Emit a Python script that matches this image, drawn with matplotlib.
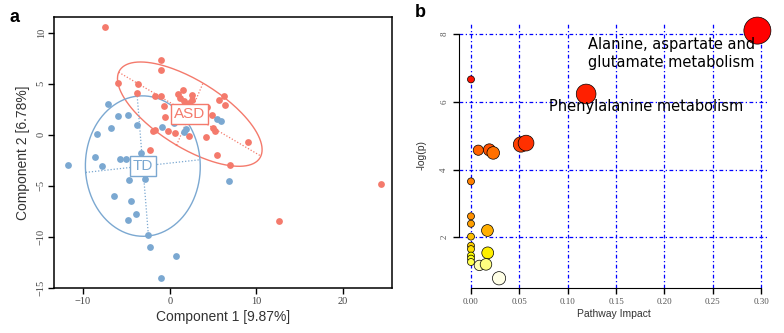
import colorsys
import numpy as np
import matplotlib
matplotlib.use('Agg')
import matplotlib.pyplot as plt

# panel a: PLS-DA scores
asd_x = [-7.5, -0.97, -0.97, -6.0, -3.66, -3.77, -1.66, -0.97, 1.57, 0.92, 1.19, 1.68,
         2.57, 2.57, 2.23, -0.66, -0.5, 4.27, 5.72, 6.23, 6.42, 4.88, -1.66, -1.96,
         -0.2, 0.58, 2.23, 5.03, 5.23, 4.23, 9.0, -2.24, 5.46, 6.96, 12.64, 24.34]
asd_y = [10.56, 7.29, 6.37, 5.1, 5.0, 4.09, 3.82, 3.82, 4.35, 4.02, 3.6, 3.33,
         3.92, 3.4, 3.08, 2.81, 1.76, 2.69, 3.43, 3.76, 2.88, 1.9, 0.43, 0.36,
         0.36, 0.14, -0.13, 0.66, 0.39, -0.23, -0.72, -1.5, -1.99, -2.94, -8.43, -4.83]
td_x = [-7.15, -5.93, -4.84, -6.8, -8.35, -3.81, -0.89, 0.5, 1.88, 1.65, 5.42, 5.95,
        -8.62, -5.7, -5.07, -3.31, -11.77, -7.81, -4.69, -2.85, 6.87, -6.46, -4.43,
        -3.89, -4.84, -2.5, -2.24, 0.69, -1.04]
td_y = [2.98, 1.86, 1.9, 0.66, 0.04, 0.92, 0.78, 1.18, 0.59, 0.29, 1.57, 1.38,
        -2.15, -2.35, -2.38, -1.8, -2.94, -3.04, -4.44, -4.34, -4.51, -6.01, -6.53,
        -7.74, -8.36, -9.8, -10.98, -11.92, -14.08]
x_label_a = 'Component 1 [9.87%]'
y_label_a = 'Component 2 [6.78%]'

# panel b: pathway impact vs -log(p)
impact = [0.296, 0.0, 0.119, 0.0076, 0.019, 0.023, 0.0517, 0.0569, 0.0, 0.0, 0.0,
          0.017, 0.0, 0.0, 0.0, 0.0173, 0.0, 0.0, 0.0, 0.0087, 0.0155, 0.029]
logp = [8.1, 6.66, 6.23, 4.57, 4.58, 4.49, 4.74, 4.78, 3.65, 2.62, 2.40,
        2.2, 2.02, 1.75, 1.65, 1.54, 1.46, 1.37, 1.27, 1.17, 1.20, 0.79]
path_names = ['Alanine, aspartate and\nglutamate metabolism', 'Phenylalanine metabolism']

red = '#F47A6C'
blue = '#7BA8D1'
tick_font = {'family': 'Liberation Serif'}


def heat_colors(n):
    # same as R heat.colors(n)
    j = n // 4
    i = n - j
    cols = [colorsys.hsv_to_rgb(h, 1, 1) for h in np.linspace(0, 1 / 6, i)]
    if j > 0:
        cols += [colorsys.hsv_to_rgb(1 / 6, s, 1) for s in np.linspace(1 - 1 / (2 * j), 1 / (2 * j), j)]
    return cols


def draw_class(ax, xs, ys, col, label, k=1.5):
    pts = np.column_stack([xs, ys])
    c = pts.mean(axis=0)
    cov = np.cov(pts.T, bias=True)
    vals, vecs = np.linalg.eigh(cov)
    t = np.linspace(0, 2 * np.pi, 200)
    circ = np.vstack([np.cos(t), np.sin(t)])
    ell = (vecs @ np.diag(k * np.sqrt(vals)) @ circ).T + c
    ax.plot(ell[:, 0], ell[:, 1], color=col, lw=1, zorder=2)
    for v, l in zip(vecs.T, vals):
        a = c + k * np.sqrt(l) * v
        b = c - k * np.sqrt(l) * v
        ax.plot([a[0], b[0]], [a[1], b[1]], color=col, lw=0.9, ls=(0, (1, 1.5)), zorder=2)
    ax.text(c[0], c[1], label, color=col, fontsize=11, family='Liberation Sans',
            ha='center', va='center', zorder=5,
            bbox=dict(boxstyle='square,pad=0.2', fc='white', ec=col, lw=1))


fig = plt.figure(figsize=(7.84, 3.33), dpi=100)

# ---- panel a
ax1 = fig.add_axes([54 / 784, 1 - 288.3 / 333, (392.3 - 54) / 784, (288.3 - 17) / 333])
ax1.scatter(asd_x, asd_y, s=24, color=red, lw=0, zorder=3)
ax1.scatter(td_x, td_y, s=24, color=blue, lw=0, zorder=3)
draw_class(ax1, asd_x, asd_y, red, 'ASD')
draw_class(ax1, td_x, td_y, blue, 'TD')
ax1.set_xlim(-13.35, 25.67)
ax1.set_ylim(-15.06, 11.54)
ax1.set_xticks([-10, 0, 10, 20])
ax1.set_yticks([-15, -10, -5, 0, 5, 10])
ax1.set_xticklabels(['\u221210', '0', '10', '20'], fontdict=tick_font)
ax1.set_yticklabels(['\u221215', '\u221210', '\u22125', '0', '5', '10'], fontdict=tick_font,
                    rotation=90, va='center')
ax1.tick_params(labelsize=7.5, labelcolor='#444444', length=4, width=1, pad=2)
for s in ax1.spines.values():
    s.set_linewidth(1.1)
ax1.set_xlabel(x_label_a, fontsize=10, family='Liberation Sans', color='#333333', labelpad=3)
ax1.set_ylabel(y_label_a, fontsize=10, family='Liberation Sans', color='#333333', labelpad=5)
fig.text(15 / 784, 1 - 17 / 333, 'a', fontsize=13, fontweight='bold', family='Liberation Sans',
         ha='center', va='center')

# ---- panel b
ax2 = fig.add_axes([458.7 / 784, 1 - 288 / 333, (768.7 - 458.7) / 784, (288 - 21.7) / 333])
hc = heat_colors(len(logp))
order = np.argsort(logp)[::-1]
cols = [None] * len(logp)
for rank, idx in enumerate(order):
    cols[idx] = hc[rank]
radius_px = 3.5 + 18.4 * np.sqrt(np.array(impact))
sizes = (2 * radius_px * 0.72) ** 2
ax2.scatter(impact, logp, s=sizes, c=cols, edgecolors='black', linewidths=0.5,
            zorder=3, clip_on=False)
ax2.set_xlim(-0.0127, 0.3077)
ax2.set_ylim(0.503, 8.363)
ax2.set_xticks(np.arange(0, 0.31, 0.05))
ax2.set_yticks([2, 4, 6, 8])
ax2.set_xticklabels(['%.2f' % v for v in np.arange(0, 0.31, 0.05)], fontdict=tick_font)
ax2.set_yticklabels(['2', '4', '6', '8'], fontdict=tick_font, rotation=90, va='center')
ax2.tick_params(labelsize=6.5, labelcolor='#555555', length=4.5, width=1, pad=3)
ax2.grid(True, color='blue', lw=0.9, ls=(0, (3, 2, 1, 2)))
ax2.set_axisbelow(True)
ax2.spines['top'].set_visible(False)
ax2.spines['right'].set_visible(False)
ax2.spines['left'].set_bounds(2, 8)
ax2.spines['bottom'].set_bounds(0, 0.3)
ax2.set_xlabel('Pathway Impact', fontsize=7.5, family='Liberation Sans', color='#333333', labelpad=2)
ax2.set_ylabel('-log(p)', fontsize=7.5, family='Liberation Sans', color='#333333', labelpad=10)
ax2.text(0.1207, 7.035, path_names[0], fontsize=10.5, ha='left', va='baseline', linespacing=1.24, zorder=4)
ax2.text(0.0804, 5.73, path_names[1], fontsize=10.5, ha='left', va='baseline', zorder=4)
fig.text(420 / 784, 1 - 12.5 / 333, 'b', fontsize=13, fontweight='bold', family='Liberation Sans',
         ha='center', va='center')

fig.savefig('out.png', dpi=100)
